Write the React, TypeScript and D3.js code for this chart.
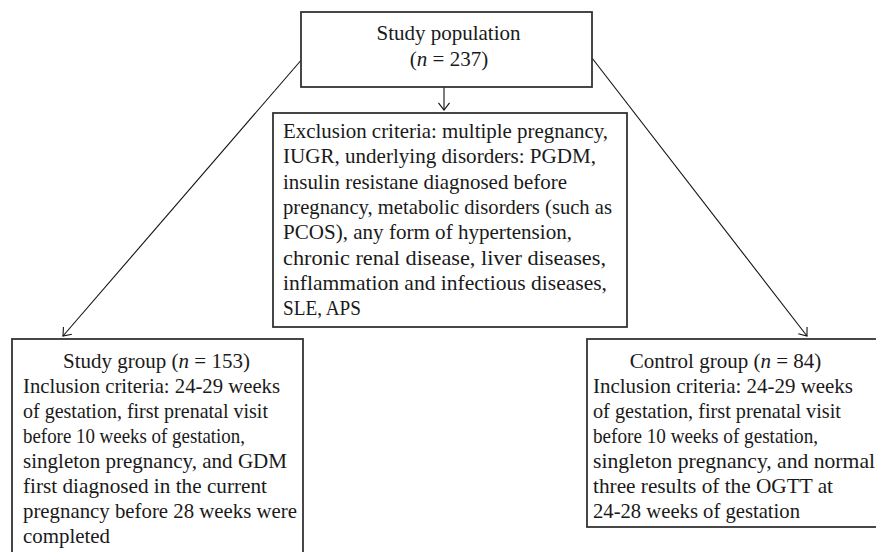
import React from "react";
import * as d3 from "d3";

const topLines = ["Study population", "(n = 237)"];
const exclusionLines = [
  "Exclusion criteria: multiple pregnancy,",
  "IUGR, underlying disorders: PGDM,",
  "insulin resistane diagnosed before",
  "pregnancy, metabolic disorders (such as",
  "PCOS), any form of hypertension,",
  "chronic renal disease, liver diseases,",
  "inflammation and infectious diseases,",
  "SLE, APS",
];
const studyTitle = ["Study group (", "n", " = 153)"];
const studyLines = [
  "Inclusion criteria: 24-29 weeks",
  "of gestation, first prenatal visit",
  "before 10 weeks of gestation,",
  "singleton pregnancy, and GDM",
  "first diagnosed in the current",
  "pregnancy before 28 weeks were",
  "completed",
];
const controlTitle = ["Control group (", "n", " = 84)"];
const controlLines = [
  "Inclusion criteria: 24-29 weeks",
  "of gestation, first prenatal visit",
  "before 10 weeks of gestation,",
  "singleton pregnancy, and normal",
  "three results of the OGTT at",
  "24-28 weeks of gestation",
];

const exclusionWidths = [325, 313, 284, 329, 289, 323, 324, 78];
const studyWidths = [257, 245, 222, 264, 244, 274, 87];
const controlWidths = [260, 248, 225, 282, 240, 207];

const W = 876;
const H = 552;
const FONT = "'Liberation Serif', 'Times New Roman', serif";
const FS = 21;
const LH = 25.3;

const boxes = {
  top: { x: 301, y: 12, w: 291, h: 75 },
  excl: { x: 273, y: 113, w: 354, h: 214 },
  study: { x: 12, y: 339, w: 291, h: 230 },
  control: { x: 587, y: 339, w: 300, h: 188 },
};

const lineGen = d3.line<[number, number]>();

function Arrow({ from, to }: { from: [number, number]; to: [number, number] }) {
  const ang = Math.atan2(to[1] - from[1], to[0] - from[0]);
  const len = 9;
  const spread = (38 * Math.PI) / 180;
  const a1: [number, number] = [to[0] - len * Math.cos(ang - spread), to[1] - len * Math.sin(ang - spread)];
  const a2: [number, number] = [to[0] - len * Math.cos(ang + spread), to[1] - len * Math.sin(ang + spread)];
  return (
    <g stroke="#111" strokeWidth={1.1} fill="none">
      <path d={lineGen([from, to]) || ""} />
      <path d={lineGen([a1, to, a2]) || ""} />
    </g>
  );
}

function Box({ b }: { b: { x: number; y: number; w: number; h: number } }) {
  return <rect x={b.x} y={b.y} width={b.w} height={b.h} fill="#fff" stroke="#333" strokeWidth={1.8} />;
}

const adj = "spacingAndGlyphs";

export default function App() {
  const t = boxes.top;
  const e = boxes.excl;
  const s = boxes.study;
  const c = boxes.control;
  return (
    <svg
      width={W}
      height={H}
      style={{ position: "absolute", left: 0, top: 0, background: "#fff" }}
      fontFamily={FONT}
      fontSize={FS}
      fill="#1a1a1a"
    >
      <Arrow from={[t.x + 2, 58]} to={[63, 336]} />
      <Arrow from={[t.x + t.w, 58]} to={[807, 336]} />
      <Arrow from={[444, t.y + t.h]} to={[444, 110]} />

      <Box b={t} />
      <Box b={e} />
      <Box b={s} />
      <Box b={c} />

      <text x={448.5} y={40} textAnchor="middle">{topLines[0]}</text>
      <text x={449} y={66} textAnchor="middle">
        (<tspan fontStyle="italic">n</tspan>
        {topLines[1].slice(2)}
      </text>

      {exclusionLines.map((l, i) => (
        <text key={i} x={283} y={138 + i * LH} textLength={exclusionWidths[i]} lengthAdjust={adj}>{l}</text>
      ))}

      <text x={156.5} y={368} textAnchor="middle">
        {studyTitle[0]}
        <tspan fontStyle="italic">{studyTitle[1]}</tspan>
        {studyTitle[2]}
      </text>
      {studyLines.map((l, i) => (
        <text key={i} x={23} y={393 + i * 25} textLength={studyWidths[i]} lengthAdjust={adj}>{l}</text>
      ))}

      <text x={725.5} y={368} textAnchor="middle">
        {controlTitle[0]}
        <tspan fontStyle="italic">{controlTitle[1]}</tspan>
        {controlTitle[2]}
      </text>
      {controlLines.map((l, i) => (
        <text key={i} x={593} y={393 + i * 25} textLength={controlWidths[i]} lengthAdjust={adj}>{l}</text>
      ))}
    </svg>
  );
}
